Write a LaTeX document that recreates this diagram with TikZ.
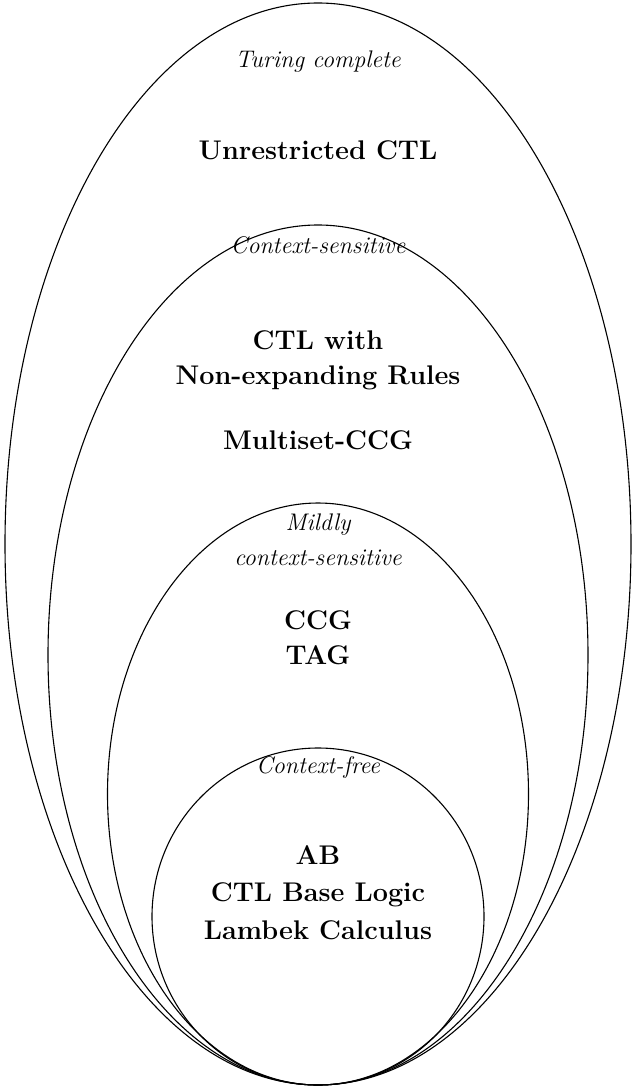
\documentclass[tikz,border=0pt]{standalone}
\usepackage{tikz}
\tikzset{
  ring/.style={draw=black, line width=0.55pt},
  lab/.style={font=\fontsize{12}{14}\selectfont\itshape, inner sep=0pt, anchor=center},
  item/.style={font=\fontsize{13.5}{16}\selectfont\bfseries, inner sep=0pt, anchor=center}
}
\begin{document}
\begin{tikzpicture}[x=0.5pt,y=-0.5pt]
\useasboundingbox (0,0) rectangle (634,1088);
% ellipses, all tangent at the bottom
\draw[ring] (318,544) ellipse [x radius=313, y radius=541];
\draw[ring] (318,655) ellipse [x radius=270, y radius=430];
\draw[ring] (318,794) ellipse [x radius=210.5, y radius=291];
\draw[ring] (318,916.5) ellipse [x radius=166, y radius=168.5];
% labels
\node[lab] (tc) at (318,62) {Turing complete};
\node[item] (uctl) at (318,150) {Unrestricted CTL};
\node[lab] (cs) at (318,245) {Context-sensitive};
\node[item] (ctlw) at (318,340) {CTL with};
\node[item] (ner) at (318,378) {Non-expanding Rules};
\node[item] (mccg) at (318,440) {Multiset-CCG};
\node[lab] (mild) at (318,525) {Mildly};
\node[lab] (mcs) at (318,558) {context-sensitive};
\node[item] (ccg) at (318,620) {CCG};
\node[item] (tag) at (318,655) {TAG};
\node[lab] (cf) at (318,767) {Context-free};
\node[item] (ab) at (318,855) {AB};
\node[item] (cbl) at (318,895) {CTL Base Logic};
\node[item] (lc) at (318,930) {Lambek Calculus};
\end{tikzpicture}
\end{document}
